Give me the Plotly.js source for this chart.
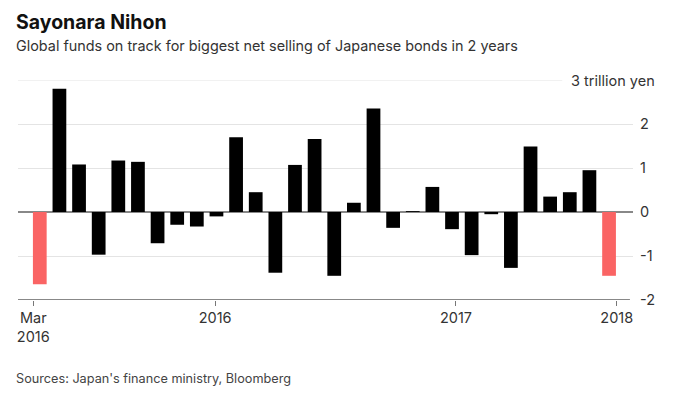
<!DOCTYPE html>
<html>
<head>
<meta charset="utf-8">
<script src="https://cdn.plot.ly/plotly-3.0.1.min.js"></script>
<style>
html,body{margin:0;padding:0;background:#fff;}
#chart{width:680px;height:398px;}
</style>
</head>
<body>
<div id="chart"></div>
<script>
// Net purchases of Japanese bonds by foreign investors (trillion yen)
const values = [-1.64, 2.80, 1.08, -0.97, 1.17, 1.14, -0.71, -0.29, -0.33, -0.10,
                 1.70, 0.45, -1.38, 1.07, 1.66, -1.45, 0.21, 2.35, -0.36, 0.02,
                 0.57, -0.39, -0.98, -0.05, -1.27, 1.49, 0.35, 0.45, 0.95, -1.45];
const highlighted = [0, 29];
const tickPositions = [-0.33, 8.93, 21.2, 29.39];
const tickLabels = ["Mar<br>2016", "2016", "2017", "2018"];
const yTicks = [-2, -1, 0, 1, 2];
const yTickLabels = ["-2", "-1", "0", "1", "2"];

const FONT = "Inter, 'Liberation Sans', Arial, sans-serif";
const positions = values.map((v, i) => i);
const colors = values.map((v, i) => highlighted.includes(i) ? "#fa6464" : "#000000");

const trace = {
  type: "bar",
  x: positions,
  y: values,
  marker: {color: colors, line: {width: 0}},
  hoverinfo: "y"
};

const layout = {
  width: 680, height: 398,
  margin: {l: 18, r: 47, t: 80, b: 98},
  paper_bgcolor: "#ffffff",
  plot_bgcolor: "#ffffff",
  showlegend: false,
  bargap: 0.30,
  font: {family: FONT, color: "#333333", size: 14.5},
  xaxis: {
    range: [-1.11, 30.22],
    tickmode: "array",
    tickvals: tickPositions,
    ticktext: tickLabels,
    ticks: "outside",
    ticklen: 5,
    tickwidth: 1,
    tickcolor: "#777777",
    showgrid: false,
    zeroline: false,
    showline: false,
    tickfont: {family: FONT, size: 14.5, color: "#333333"},
    fixedrange: true
  },
  yaxis: {
    range: [-2, 3],
    side: "right",
    tickmode: "array",
    tickvals: yTicks,
    ticktext: yTickLabels,
    ticks: "",
    ticklabelstandoff: 6,
    showgrid: true,
    gridcolor: "#e4e4e4",
    gridwidth: 1,
    zeroline: true,
    zerolinecolor: "#888888",
    zerolinewidth: 1.5,
    showline: false,
    tickfont: {family: FONT, size: 14.5, color: "#333333"},
    fixedrange: true
  },
  shapes: [
    {type: "line", xref: "paper", yref: "y", x0: 0, x1: 0.885, y0: 3, y1: 3,
     line: {color: "#e4e4e4", width: 1}},
    {type: "line", xref: "paper", yref: "y", x0: 0, x1: 0.995, y0: -2, y1: -2,
     line: {color: "#888888", width: 2}}
  ],
  annotations: [
    {text: "3 trillion yen", xref: "paper", yref: "y", x: 1.039, y: 3,
     xanchor: "right", yanchor: "middle", showarrow: false,
     font: {family: FONT, size: 14.5, color: "#333333"}},
    {text: "<b>Sayonara Nihon</b>", xref: "paper", yref: "paper", x: -0.0065, y: 1.2636,
     xanchor: "left", yanchor: "middle", showarrow: false,
     font: {family: FONT, size: 19.5, color: "#111111"}},
    {text: "Global funds on track for biggest net selling of Japanese bonds in 2 years",
     xref: "paper", yref: "paper", x: -0.0065, y: 1.1568,
     xanchor: "left", yanchor: "middle", showarrow: false,
     font: {family: FONT, size: 14.4, color: "#333333"}},
    {text: "Sources: Japan's finance ministry, Bloomberg",
     xref: "paper", yref: "paper", x: -0.0065, y: -0.356,
     xanchor: "left", yanchor: "middle", showarrow: false,
     font: {family: FONT, size: 12.7, color: "#444444"}}
  ]
};

Plotly.newPlot("chart", [trace], layout, {displayModeBar: false, staticPlot: true});
</script>
</body>
</html>
